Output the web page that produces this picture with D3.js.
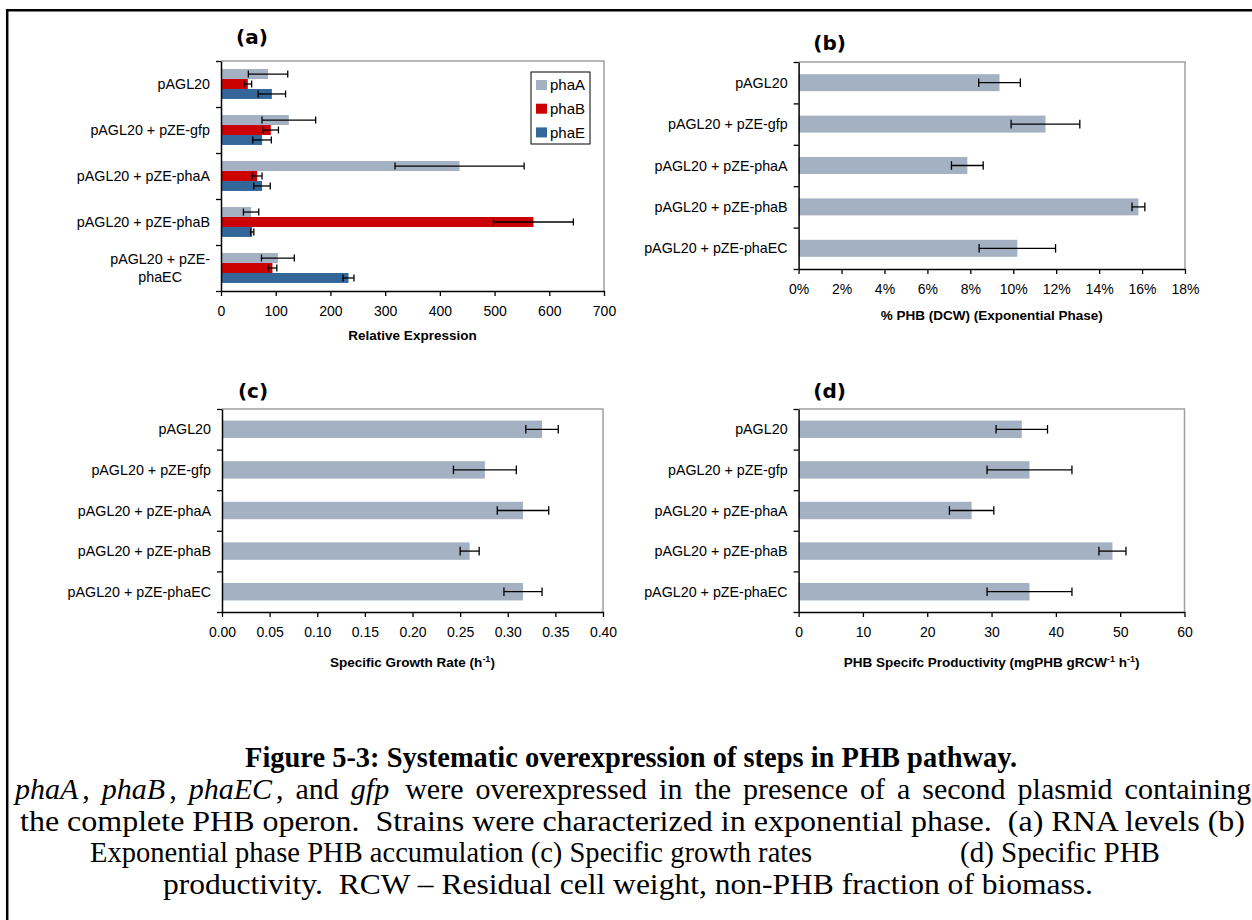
<!DOCTYPE html>
<html>
<head>
<meta charset="utf-8">
<script src="https://cdn.jsdelivr.net/npm/d3@7"></script>
<style>
  body { margin: 0; background: #fff; }
</style>
</head>
<body>
<div id="fig"></div>
<script>
// Strains (same for all four panels)
const strains = ["pAGL20", "pAGL20 + pZE-gfp", "pAGL20 + pZE-phaA", "pAGL20 + pZE-phaB", "pAGL20 + pZE-phaEC"];

// (a) RNA levels, relative expression
const genes = ["phaA", "phaB", "phaE"];
const phaAExpr = [86, 124, 436, 55, 104];
const phaAErr = [36, 49, 118, 14, 30];
const phaBExpr = [49, 91, 66, 571, 94];
const phaBErr = [7, 14, 9, 73, 8];
const phaEExpr = [93, 75, 75, 57, 233];
const phaEErr = [25, 17, 15, 3, 10];
const exprTicks = [0, 100, 200, 300, 400, 500, 600, 700];

// (b) % PHB of DCW, exponential phase
const phbPct = [9.36, 11.5, 7.86, 15.83, 10.19];
const phbPctErr = [0.97, 1.6, 0.74, 0.3, 1.78];
const pctTicks = [0, 2, 4, 6, 8, 10, 12, 14, 16, 18];

// (c) specific growth rate (1/h)
const growth = [0.336, 0.276, 0.316, 0.260, 0.316];
const growthErr = [0.017, 0.033, 0.027, 0.010, 0.020];
const growthTicks = [0, 0.05, 0.10, 0.15, 0.20, 0.25, 0.30, 0.35, 0.40];

// (d) PHB specific productivity
const productivity = [34.7, 35.9, 26.9, 48.8, 35.9];
const productivityErr = [4.0, 6.6, 3.45, 2.1, 6.6];
const prodTicks = [0, 10, 20, 30, 40, 50, 60];

const W = 1252, H = 920;
const sans = "'Liberation Sans', Arial, sans-serif";
const gray = "#a3b1c2";

const svg = d3.select("#fig").append("svg")
    .attr("width", W)
    .attr("height", H)
    .style("display", "block");

// page frame (top and left rules)
svg.append("path")
    .attr("d", `M7.2,${H}V10.3H${W}`)
    .attr("fill", "none")
    .attr("stroke", "#000")
    .attr("stroke-width", 2.5);

function splitLabel(s) {
    const k = s.lastIndexOf("-");
    return [s.slice(0, k + 1), s.slice(k + 1)];
}

function drawPanel(p) {
    const x = d3.scaleLinear().domain([0, d3.max(p.ticks)]).range([p.left, p.right]);
    const y = d3.scaleBand().domain(strains).range([p.top, p.bottom])
        .paddingInner(p.pad).paddingOuter(p.pad / 2);
    const sub = d3.scaleBand().domain(p.series.map(s => s.name)).range([0, y.bandwidth()]);
    const g = svg.append("g");

    // grey top/right border of plot area
    g.append("path")
        .attr("d", `M${p.left},${p.top}H${p.right}V${p.bottom}`)
        .attr("fill", "none")
        .attr("stroke", "#a0a0a0")
        .attr("stroke-width", 1.5);

    // bars
    p.series.forEach(s => {
        const rows = strains.map((c, i) => ({ c, v: s.values[i] }));
        g.append("g").selectAll("rect").data(rows).join("rect")
            .attr("x", x(0))
            .attr("y", d => y(d.c) + sub(s.name))
            .attr("width", d => x(d.v) - x(0))
            .attr("height", sub.bandwidth())
            .attr("fill", s.color);
    });

    // error bars
    p.series.forEach(s => {
        const rows = strains.map((c, i) => ({ c, v: s.values[i], e: s.errors[i] }));
        const cy = d => y(d.c) + sub(s.name) + sub.bandwidth() / 2;
        const eg = g.append("g").attr("stroke", "#000").attr("stroke-width", 1.3);
        eg.selectAll("line.h").data(rows).join("line").attr("class", "h")
            .attr("x1", d => x(d.v - d.e)).attr("x2", d => x(d.v + d.e))
            .attr("y1", cy).attr("y2", cy);
        [-1, 1].forEach(sgn => {
            eg.selectAll("line.c" + (sgn > 0 ? "p" : "m")).data(rows).join("line")
                .attr("class", "c" + (sgn > 0 ? "p" : "m"))
                .attr("x1", d => x(d.v + sgn * d.e)).attr("x2", d => x(d.v + sgn * d.e))
                .attr("y1", d => cy(d) - p.cap).attr("y2", d => cy(d) + p.cap);
        });
    });

    // left axis with ticks between categories
    const yIdx = d3.scaleLinear().domain([0, strains.length]).range([p.top, p.bottom]);
    const la = g.append("g")
        .attr("transform", `translate(${p.left},0)`)
        .call(d3.axisLeft(yIdx).tickValues(d3.range(strains.length + 1)).tickFormat("").tickSize(5).tickSizeOuter(0));
    la.select(".domain").attr("stroke", "#000").attr("stroke-width", 1.5);
    la.selectAll(".tick line").attr("stroke", "#000").attr("stroke-width", 1.3);

    // bottom axis
    const ba = g.append("g")
        .attr("transform", `translate(0,${p.bottom})`)
        .call(d3.axisBottom(x).tickValues(p.ticks).tickFormat(p.fmt).tickSize(5).tickPadding(10).tickSizeOuter(0));
    ba.select(".domain").attr("stroke", "#000").attr("stroke-width", 1.5);
    ba.selectAll(".tick line").attr("stroke", "#000").attr("stroke-width", 1.3);
    ba.selectAll(".tick text")
        .attr("font-family", sans).attr("font-size", 14).attr("fill", "#000");

    // category labels
    strains.forEach(c => {
        const cyy = y(c) + y.bandwidth() / 2;
        if (p.wrap && c.length > 17) {
            const lines = splitLabel(c);
            const t = g.append("text")
                .attr("font-family", sans).attr("font-size", 14.3)
                .attr("text-anchor", "middle");
            lines.forEach((ln, i) => {
                t.append("tspan").attr("y", cyy + (i - 0.5) * 18).attr("dy", "0.35em").text(ln);
            });
            const w = d3.max(t.selectAll("tspan").nodes(), n => n.getComputedTextLength());
            t.selectAll("tspan").attr("x", p.left - 11 - w / 2);
        } else {
            g.append("text")
                .attr("x", p.left - 11).attr("y", cyy).attr("dy", "0.35em")
                .attr("text-anchor", "end")
                .attr("font-family", sans).attr("font-size", 14.3)
                .text(c);
        }
    });

    // panel letter
    g.append("text")
        .attr("x", p.left + 31).attr("y", p.top + p.letterDy)
        .attr("text-anchor", "middle")
        .attr("font-family", "'DejaVu Sans', Verdana, sans-serif")
        .attr("font-weight", "bold").attr("font-size", 20)
        .text(p.letter);

    // axis title
    const at = g.append("text")
        .attr("x", (p.left + p.right) / 2).attr("y", p.bottom + p.titleDy)
        .attr("text-anchor", "middle")
        .attr("font-family", sans).attr("font-weight", "bold").attr("font-size", 13.5);
    p.title.forEach(part => {
        const ts = at.append("tspan").text(part.t);
        if (part.sup) ts.attr("baseline-shift", "super").attr("font-size", 9);
    });

    // legend
    if (p.legend) {
        const L = p.legend;
        const lg = g.append("g").attr("transform", `translate(${L.x},${L.y})`);
        lg.append("rect").attr("width", L.w).attr("height", L.h)
            .attr("fill", "#fff").attr("stroke", "#000").attr("stroke-width", 1);
        p.series.forEach((s, i) => {
            const yy = 13 + i * 23.7;
            lg.append("rect").attr("x", 5).attr("y", yy - 5).attr("width", 11).attr("height", 10).attr("fill", s.color);
            lg.append("text").attr("x", 19).attr("y", yy).attr("dy", "0.35em")
                .attr("font-family", sans).attr("font-size", 15).text(s.name);
        });
    }
}

drawPanel({
    letter: "(a)", left: 221, right: 604, top: 61, bottom: 291, pad: 0.35, cap: 3.5,
    letterDy: -17, titleDy: 49, wrap: true,
    ticks: exprTicks, fmt: d3.format("d"),
    series: [
        { name: genes[0], color: gray, values: phaAExpr, errors: phaAErr },
        { name: genes[1], color: "#cc0000", values: phaBExpr, errors: phaBErr },
        { name: genes[2], color: "#336699", values: phaEExpr, errors: phaEErr }
    ],
    title: [{ t: "Relative Expression" }],
    legend: { x: 531, y: 72, w: 59, h: 72 }
});

drawPanel({
    letter: "(b)", left: 798.6, right: 1185, top: 62, bottom: 269, pad: 0.59, cap: 4.3,
    letterDy: -12, titleDy: 51,
    ticks: pctTicks, fmt: d => d + "%",
    series: [{ name: "phb", color: gray, values: phbPct, errors: phbPctErr }],
    title: [{ t: "% PHB (DCW) (Exponential Phase)" }]
});

drawPanel({
    letter: "(c)", left: 222, right: 603, top: 409, bottom: 612, pad: 0.57, cap: 4.3,
    letterDy: -11, titleDy: 55,
    ticks: growthTicks, fmt: d3.format(".2f"),
    series: [{ name: "mu", color: gray, values: growth, errors: growthErr }],
    title: [{ t: "Specific Growth Rate (h" }, { t: "-1", sup: true }, { t: ")" }]
});

drawPanel({
    letter: "(d)", left: 798.6, right: 1184.5, top: 409, bottom: 612, pad: 0.57, cap: 4.3,
    letterDy: -11, titleDy: 55,
    ticks: prodTicks, fmt: d3.format("d"),
    series: [{ name: "prod", color: gray, values: productivity, errors: productivityErr }],
    title: [{ t: "PHB Specifc Productivity (mgPHB gRCW" }, { t: "-1", sup: true }, { t: " h" }, { t: "-1", sup: true }, { t: ")" }]
});

// caption (Word-style lines, widths taken from the figure)
const serif = "'Times New Roman', 'Liberation Serif', serif";
const cap = svg.append("g").attr("font-family", serif).attr("font-size", 30);
function capLine(x0, x1, yb) {
    return cap.append("text").attr("x", x0).attr("y", yb)
        .attr("textLength", x1 - x0).attr("lengthAdjust", "spacingAndGlyphs")
        .attr("xml:space", "preserve");
}
capLine(245, 1017, 767).attr("font-weight", "bold").attr("font-size", 29)
    .text("Figure 5-3: Systematic overexpression of steps in PHB pathway.");
// line with italic gene names: natural glyphs, spread with word spacing
const l2 = cap.append("text").attr("x", 15).attr("y", 799).attr("font-size", 30)
    .style("word-spacing", "4.5px");
[["phaA", 1], [",", 0], [" phaB", 1], [",", 0], [" phaEC", 1], [", and", 0], [" gfp", 1],
 [" were overexpressed in the presence of a second plasmid containing", 0]].forEach(([t, it]) => {
    const ts = l2.append("tspan").text(t);
    if (it) ts.attr("font-style", "italic");
    else ts.attr("dx", 4);
});
capLine(20, 1245, 830.5)
    .text("the complete PHB operon.  Strains were characterized in exponential phase.  (a) RNA levels (b)");
capLine(90, 812, 862).text("Exponential phase PHB accumulation (c) Specific growth rates");
capLine(960, 1160, 862).text("(d) Specific PHB");
capLine(163, 1093, 893.5)
    .text("productivity.  RCW \u2013 Residual cell weight, non-PHB fraction of biomass.");
</script>
</body>
</html>
